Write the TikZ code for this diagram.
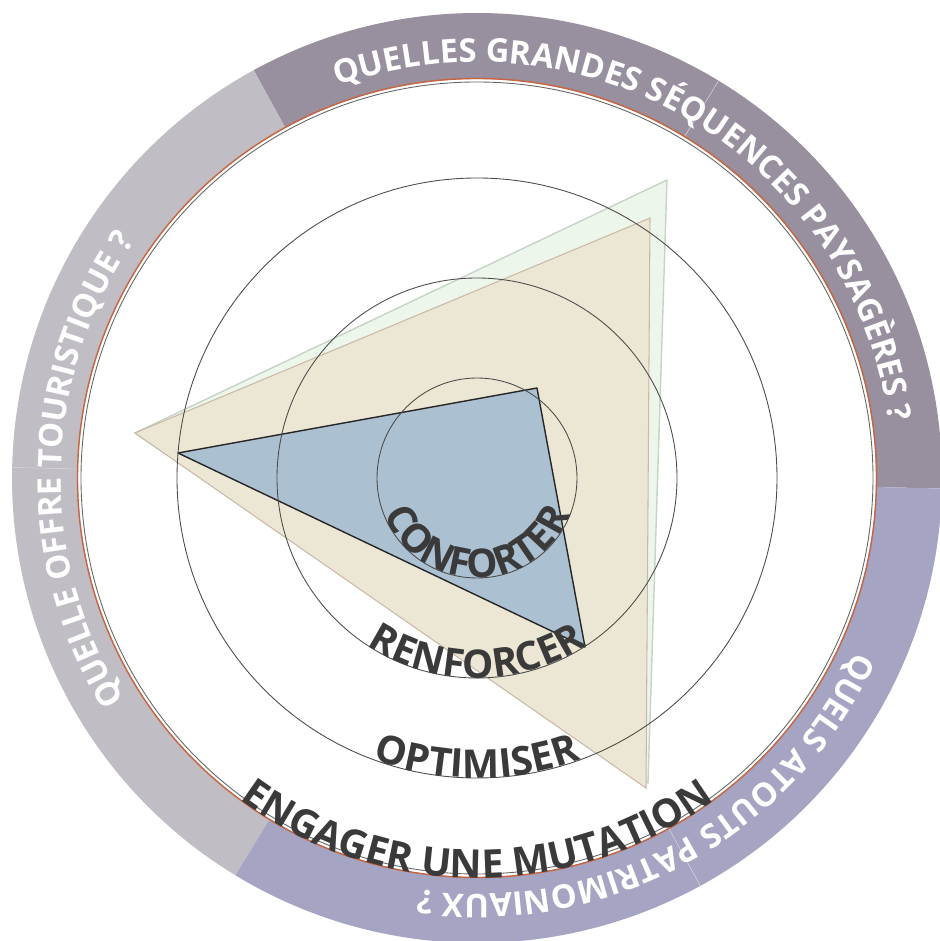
\documentclass[tikz,border=0pt]{standalone}
\usepackage{fontspec}
\setmainfont{Open Sans}
\usepackage{xcolor}
\usetikzlibrary{decorations.text}
\definecolor{ringtop}{HTML}{988F9F}
\definecolor{ringleft}{HTML}{C0BDC5}
\definecolor{ringbot}{HTML}{A5A5C3}
\definecolor{sepline}{HTML}{D4D0DA}
\definecolor{lvlblue}{HTML}{ABC0D1}
\definecolor{lvlbeige}{HTML}{ECE7D5}
\definecolor{lvlgreen}{HTML}{EDF6EA}
\definecolor{edgebeige}{HTML}{C9B9A6}
\definecolor{edgegreen}{HTML}{C6D4C6}
\definecolor{rust}{HTML}{C8653F}
\definecolor{txtdark}{HTML}{3A3A3A}

\begin{document}
\begin{tikzpicture}[x=0.2mm,y=0.2mm,
    grid/.style={draw=black!70,line width=0.5pt},
    innertext/.style={decorate,decoration={text along path,text align=center,text color=txtdark,
        text={|\fontsize{22.5}{22}\selectfont\bfseries|#1}}},
    ringtext/.style={decorate,decoration={text along path,text align=center,text color=white,
        text={|\fontsize{18.6}{20}\selectfont\bfseries|#1}}}]
    \useasboundingbox (-477,-463) rectangle (462,478);
    \foreach \a/\c in {-1.3/ringtop,58.7/ringtop,118.7/ringleft,178.7/ringleft,238.7/ringbot,298.7/ringbot}
        \fill[\c] (\a:399) arc[start angle=\a,delta angle=60,radius=399] -- ({\a+60}:465)
            arc[start angle={\a+60},delta angle=-60,radius=465] -- cycle;
    \foreach \a in {58.7,178.7,-61.3}
        \draw[sepline,line width=0.3pt] (\a:400) -- (\a:465);
    \draw[black!60,line width=0.5pt] (0,0) circle[radius=396];
    \draw[rust,line width=0.8pt] (0,0) circle[radius=399.5];

    \coordinate (g1) at (190,298);
    \coordinate (g2) at (-342,45);
    \coordinate (g3) at (171,-305);
    \coordinate (b1) at (173,260);
    \coordinate (b2) at (-342,45);
    \coordinate (b3) at (169,-310);
    \coordinate (c1) at (60,90);
    \coordinate (c2) at (-299,25);
    \coordinate (c3) at (108,-169);
    \filldraw[fill=lvlgreen,draw=edgegreen,line width=0.8pt] (g1) -- (g2) -- (g3) -- cycle;
    \filldraw[fill=lvlbeige,draw=edgebeige,line width=0.6pt] (b1) -- (b2) -- (b3) -- cycle;
    \filldraw[fill=lvlblue,draw=black!85,line width=0.8pt,line join=round] (c1) -- (c2) -- (c3) -- cycle;

    \foreach \r in {100,200,300}
        \draw[grid] (0,0) circle[radius=\r];

    \path[innertext=CONFORTER] (-180:100) arc[start angle=-180,end angle=0,radius=100];
    \path[innertext=RENFORCER] (-180:200) arc[start angle=-180,end angle=0,radius=200];
    \path[innertext=OPTIMISER] (-180:300) arc[start angle=-180,end angle=0,radius=300];
    \path[innertext={ENGAGER UNE MUTATION}] (-180:400) arc[start angle=-180,end angle=0,radius=400];

    \path[ringtext={QUELLES GRANDES SÉQUENCES PAYSAGÈRES ?}] (148.7:416) arc[start angle=148.7,end angle=-31.3,radius=416];
    \path[ringtext={QUELLE OFFRE TOURISTIQUE ?}] (268.7:416) arc[start angle=268.7,end angle=88.7,radius=416];
    \path[ringtext={QUELS ATOUTS PATRIMONIAUX ?}] (28.7:416) arc[start angle=28.7,end angle=-151.3,radius=416];
\end{tikzpicture}
\end{document}
